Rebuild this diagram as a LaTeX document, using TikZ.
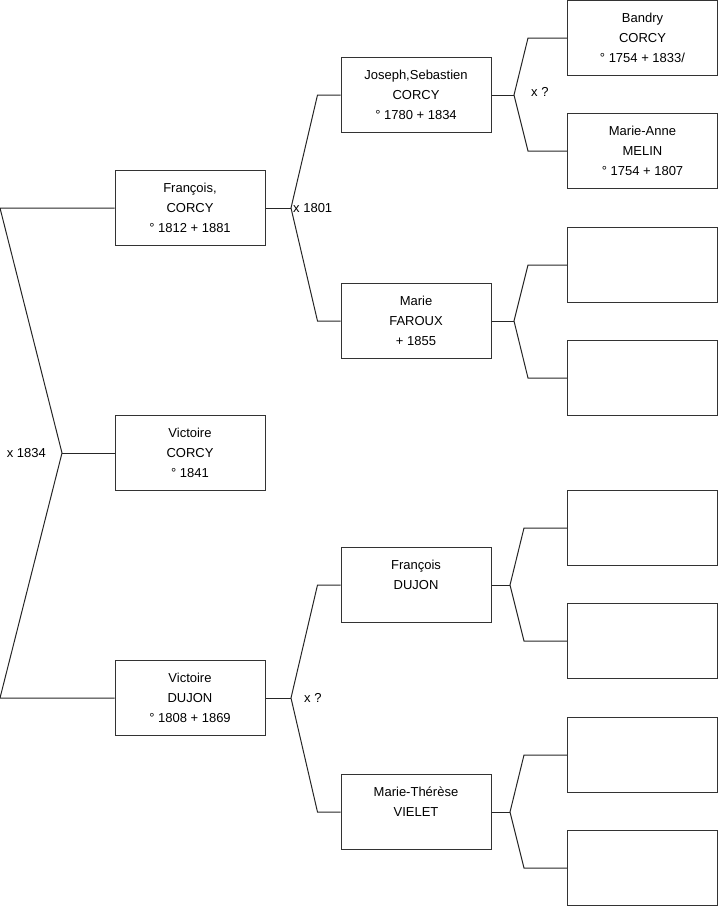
\documentclass[tikz,border=0pt]{standalone}
\usepackage{fontspec}
\setmainfont{Liberation Sans}
\usepackage{tikz}
\usetikzlibrary{calc,positioning}

\tikzset{
	person/.style={draw=black!80, line width=1pt, minimum width=150pt, minimum height=75pt, align=center, inner sep=0pt, font=\fontsize{13}{20}\selectfont},
	link/.style={draw=black!85, line width=1pt},
	mariage/.style={inner sep=0pt, font=\fontsize{13}{15}\selectfont}
}

\begin{document}
\begin{tikzpicture}[x=1pt, y=-1pt]
	\useasboundingbox (0,0) rectangle (719,908);

	\node[person] (fc) at (190,208) {François,\\CORCY\\° 1812 + 1881};
	\node[person] (vc) at (190,453) {Victoire\\CORCY\\° 1841};
	\node[person] (vd) at (190,698) {Victoire\\DUJON\\° 1808 + 1869};

	\node[person] (jc) at (416,95) {Joseph,Sebastien\\CORCY\\° 1780 + 1834};
	\node[person] (mf) at (416,321) {Marie\\FAROUX\\+ 1855};
	\node[person] (fd) at (416,585) {François\\DUJON\\\mbox{}};
	\node[person] (mv) at (416,812) {Marie-Thérèse\\VIELET\\\mbox{}};

	\node[person] (bc) at (642.5,38) {Bandry\\CORCY\\° 1754 + 1833/};
	\node[person] (am) at (642.5,151) {Marie-Anne\\MELIN\\° 1754 + 1807};
	\node[person] (e1) at (642.5,265) {};
	\node[person] (e2) at (642.5,378) {};
	\node[person] (e3) at (642.5,528) {};
	\node[person] (e4) at (642.5,641) {};
	\node[person] (e5) at (642.5,755) {};
	\node[person] (e6) at (642.5,868) {};

	\coordinate (a) at (0,208);
	\coordinate (b) at (0,698);
	\coordinate (v0) at (62,453);
	\coordinate (v1) at (291,208);
	\coordinate (v2) at (291,698);
	\coordinate (v3) at (514,95);
	\coordinate (v4) at (514,321);
	\coordinate (v5) at (510,585);
	\coordinate (v6) at (510,812);

	\draw[link] (fc.west) -- (a) -- (v0) -- (b) -- (vd.west);
	\draw[link] (v0) -- (vc.west);
	\node[mariage, anchor=east] (m0) at ([xshift=-16pt]v0) {x 1834};

	\draw[link] (fc.east) -- (v1);
	\draw[link] (jc.west) -- ([xshift=-23pt]jc.west) -- (v1) -- ([xshift=-23pt]mf.west) -- (mf.west);
	\node[mariage, anchor=west] (m1) at ([xshift=2pt]v1) {x 1801};

	\draw[link] (vd.east) -- (v2);
	\draw[link] (fd.west) -- ([xshift=-23pt]fd.west) -- (v2) -- ([xshift=-23pt]mv.west) -- (mv.west);
	\node[mariage, anchor=west] (m2) at ([xshift=13pt]v2) {x ?};

	\draw[link] (jc.east) -- (v3);
	\draw[link] (bc.west) -- ([xshift=-39pt]bc.west) -- (v3) -- ([xshift=-39pt]am.west) -- (am.west);
	\node[mariage, anchor=west] (m3) at ([xshift=17pt,yshift=3pt]v3) {x ?};

	\draw[link] (mf.east) -- (v4);
	\draw[link] (e1.west) -- ([xshift=-39pt]e1.west) -- (v4) -- ([xshift=-39pt]e2.west) -- (e2.west);

	\draw[link] (fd.east) -- (v5);
	\draw[link] (e3.west) -- ([xshift=-43pt]e3.west) -- (v5) -- ([xshift=-43pt]e4.west) -- (e4.west);

	\draw[link] (mv.east) -- (v6);
	\draw[link] (e5.west) -- ([xshift=-43pt]e5.west) -- (v6) -- ([xshift=-43pt]e6.west) -- (e6.west);
\end{tikzpicture}
\end{document}
